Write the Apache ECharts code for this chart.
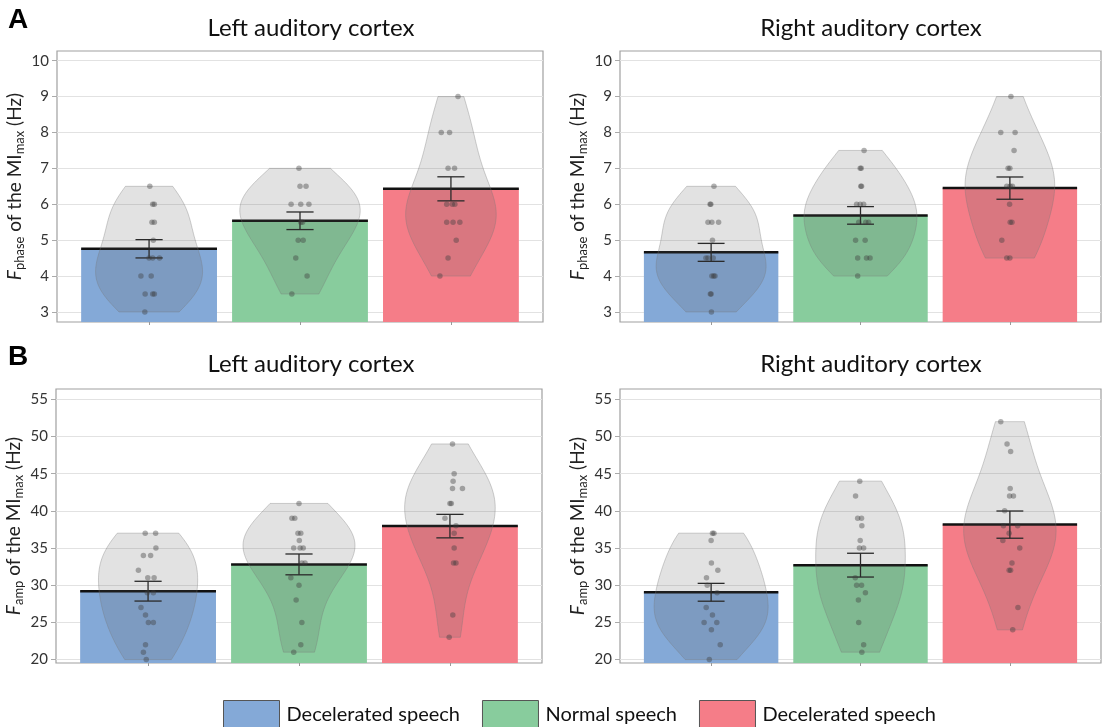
<!DOCTYPE html>
<html><head><meta charset="utf-8">
<script src="https://cdn.jsdelivr.net/npm/echarts@6.0.0/dist/echarts.min.js"></script>
<style>html,body{margin:0;padding:0;background:#fff}#c{width:1106px;height:727px}</style>
</head><body><div id="c"></div>
<script>
// ---------- data ----------
const conditions = ['Decelerated speech', 'Normal speech', 'Decelerated speech '];
const panelTitles = ['Left auditory cortex', 'Right auditory cortex', 'Left auditory cortex', 'Right auditory cortex'];
const panelLetters = ['A', 'B'];
const yTicksA = [3, 4, 5, 6, 7, 8, 9, 10];
const yTicksB = [20, 25, 30, 35, 40, 45, 50, 55];
const yRangeA = [2.72, 10.27];
const yRangeB = [19.54, 56.39];

// A - left
const meansAL = [4.76, 5.54, 6.43];
const semAL = [0.255, 0.245, 0.335];
const yAL0 = [6.5, 6, 6, 5.5, 5.5, 5, 4.5, 4.5, 4.5, 4, 4, 3.5, 3.5, 3.5, 3];
const jAL0 = [0.005, 0.024, 0.035, 0.019, 0.035, 0.028, 0.0, 0.024, 0.069, -0.054, 0.014, -0.026, 0.024, 0.035, -0.028];
const yAL1 = [7, 6.5, 6.5, 6, 6, 6, 5.5, 5.5, 5, 5, 4.5, 4, 3.5];
const jAL1 = [-0.007, 0, 0.040, -0.059, 0.005, 0.059, 0.005, 0.017, -0.012, 0.021, -0.028, 0.047, -0.054];
const yAL2 = [9, 8, 8, 7, 7, 6, 6, 6, 5.5, 5.5, 5.5, 5, 4.5, 4];
const jAL2 = [0.047, -0.064, -0.009, -0.019, 0.024, -0.028, 0.009, 0.026, -0.028, 0.014, 0.059, 0.035, -0.019, -0.073];

// A - right
const meansAR = [4.66, 5.69, 6.45];
const semAR = [0.25, 0.245, 0.31];
const yAR0 = [6.5, 6, 6, 5.5, 5.5, 5.5, 5, 4.5, 4.5, 4.5, 4, 4, 4, 3.5, 3.5, 3];
const jAR0 = [0.019, -0.007, -0.002, -0.021, 0.005, 0.050, 0.009, -0.035, -0.021, 0.014, 0.005, 0.017, 0.026, -0.005, 0, 0.002];
const yAR1 = [7.5, 7, 7, 6.5, 6.5, 6, 6, 6, 5.5, 5.5, 5.5, 5, 5, 4.5, 4.5, 4.5, 4];
const jAR1 = [0.024, -0.002, 0.005, 0.002, 0.007, -0.026, -0.002, 0.021, -0.012, 0.035, 0.054, -0.033, 0.031, -0.019, 0.040, 0.064, -0.019];
const yAR2 = [9, 8, 8, 7.5, 7, 7, 6.5, 6.5, 6.5, 6, 5.5, 5.5, 5, 4.5, 4.5];
const jAR2 = [0.007, -0.061, 0.035, 0.028, -0.012, 0, -0.021, 0.002, 0.017, -0.002, 0.002, 0.014, -0.054, -0.021, 0];

// B - left
const meansBL = [29.2, 32.8, 37.95];
const semBL = [1.33, 1.4, 1.58];
const yBL0 = [37, 37, 35, 34, 34, 32, 31, 31, 29, 29, 27, 26, 25, 25, 22, 21, 20];
const jBL0 = [-0.019, 0.050, 0.052, -0.031, 0.017, -0.064, -0.002, 0.040, -0.005, 0.035, -0.047, -0.017, 0.002, 0.035, -0.017, -0.031, -0.012];
const yBL1 = [41, 39, 39, 37, 37, 36, 35, 35, 35, 33, 33, 31, 30, 28, 25, 22, 21];
const jBL1 = [0, -0.047, -0.028, -0.007, 0.012, 0.002, -0.035, 0.007, 0.028, 0.019, 0.040, -0.054, 0, -0.019, 0.019, 0.012, -0.035];
const yBL2 = [49, 45, 44, 43, 43, 41, 41, 39, 38, 37, 35, 33, 33, 26, 23];
const jBL2 = [0.017, 0.028, 0.021, 0.017, 0.083, 0, 0.009, -0.033, 0.040, 0.028, 0.028, 0.024, 0.040, 0.019, -0.005];

// B - right
const meansBR = [29.05, 32.7, 38.15];
const semBR = [1.2, 1.6, 1.83];
const yBR0 = [37, 37, 36, 33, 32, 31, 30, 29, 27, 26, 25, 25, 24, 22, 20];
const jBR0 = [0.009, 0.019, 0, 0.002, 0.045, -0.031, -0.026, 0.040, -0.033, 0.009, -0.047, 0.038, 0.002, 0.061, -0.012];
const yBR1 = [44, 42, 39, 39, 38, 36, 35, 35, 31, 30, 30, 29, 28, 25, 22, 21];
const jBR1 = [-0.005, -0.033, -0.019, 0.007, 0.009, -0.002, -0.007, 0.021, -0.035, -0.026, 0.007, 0.033, -0.014, -0.012, 0.021, 0.009];
const yBR2 = [52, 49, 48, 43, 42, 42, 40, 38, 38, 37, 36, 35, 33, 32, 32, 27, 24];
const jBR2 = [-0.061, -0.019, 0.005, 0.002, -0.002, 0.024, -0.035, -0.043, 0.052, -0.005, -0.047, 0.066, 0.014, -0.005, 0.005, 0.054, 0.019];

// ---------- style ----------
const barColors = ['#84a9d7', '#88cc9d', '#f57d88'];
const BAR_W = 0.9;
const CAP_W = 0.18;
const VIOLIN_MIN_PEAK_W = 0.30;
const FONT = 'Lato';

const nameA = '{f|F}{sub|phase}{n| of the MI}{sub|max}{n| (Hz)}';
const nameB = '{f|F}{sub|amp}{n| of the MI}{sub|max}{n| (Hz)}';

const panels = [
  {means: meansAL, sem: semAL, ys: [yAL0, yAL1, yAL2], jit: [jAL0, jAL1, jAL2], range: yRangeA, ticks: yTicksA, yName: nameA},
  {means: meansAR, sem: semAR, ys: [yAR0, yAR1, yAR2], jit: [jAR0, jAR1, jAR2], range: yRangeA, ticks: yTicksA, yName: nameA},
  {means: meansBL, sem: semBL, ys: [yBL0, yBL1, yBL2], jit: [jBL0, jBL1, jBL2], range: yRangeB, ticks: yTicksB, yName: nameB},
  {means: meansBR, sem: semBR, ys: [yBR0, yBR1, yBR2], jit: [jBR0, jBR1, jBR2], range: yRangeB, ticks: yTicksB, yName: nameB}
];
const grids = [
  {left: 57, top: 51, width: 486, height: 271},
  {left: 620, top: 51, width: 481, height: 271},
  {left: 56, top: 389, width: 486, height: 274},
  {left: 620, top: 389, width: 481, height: 274}
];

// kernel density (Gaussian, Silverman bandwidth) evaluated between min and max of the data
function kde(vals) {
  const n = vals.length;
  const mean = vals.reduce((a, b) => a + b, 0) / n;
  const sd = Math.sqrt(vals.reduce((a, b) => a + (b - mean) * (b - mean), 0) / (n - 1));
  const h = 1.06 * sd * Math.pow(n, -0.2);
  const lo = Math.min(...vals), hi = Math.max(...vals);
  const N = 80, out = [];
  for (let i = 0; i <= N; i++) {
    const y = lo + (hi - lo) * i / N;
    let d = 0;
    for (const v of vals) { const u = (y - v) / h; d += Math.exp(-0.5 * u * u); }
    out.push([y, d / (n * h * Math.sqrt(2 * Math.PI))]);
  }
  return out;
}

const series = [];
const xAxes = [], yAxes = [];
panels.forEach((P, p) => {
  xAxes.push({
    type: 'value', gridIndex: p, min: 0.39, max: 3.61,
    axisLine: {show: false}, splitLine: {show: false}, axisLabel: {show: false},
    axisTick: {show: true, customValues: [1, 2, 3], length: 3, lineStyle: {color: '#999'}}
  });
  yAxes.push({
    type: 'value', gridIndex: p, min: P.range[0], max: P.range[1],
    axisLine: {show: false},
    axisTick: {show: true, customValues: P.ticks, length: 5, lineStyle: {color: '#aaa'}},
    axisLabel: {customValues: P.ticks, fontFamily: FONT, fontSize: 15, color: '#333', margin: 8},
    splitLine: {show: true, lineStyle: {color: '#e2e2e2', width: 1}},
    name: P.yName, nameLocation: 'middle', nameGap: 31, nameRotate: 90,
    nameTextStyle: {
      fontFamily: FONT, fontSize: 19, color: '#222',
      rich: {
        f: {fontFamily: FONT, fontSize: 19, fontStyle: 'italic', color: '#222'},
        n: {fontFamily: FONT, fontSize: 19, color: '#222'},
        sub: {fontFamily: FONT, fontSize: 13, color: '#222', padding: [9, 0, 0, 0]}
      }
    }
  });

  const dens = P.ys.map(kde);
  const peaks = dens.map(d => Math.max(...d.map(q => q[1])));
  const scale = VIOLIN_MIN_PEAK_W / Math.min(...peaks);

  // bars
  [0, 1, 2].forEach(c => {
    series.push({
      type: 'custom', name: conditions[c], xAxisIndex: p, yAxisIndex: p, z: 2, silent: true,
      itemStyle: {color: barColors[c]},
      data: [[c + 1, P.means[c]]],
      renderItem: (params, api) => {
        const x = api.value(0), m = api.value(1);
        const tl = api.coord([x - BAR_W / 2, m]);
        const br = api.coord([x + BAR_W / 2, P.range[0]]);
        return {type: 'group', children: [
          {type: 'rect', shape: {x: tl[0], y: tl[1], width: br[0] - tl[0], height: br[1] - tl[1]}, style: {fill: barColors[c]}},
          {type: 'line', shape: {x1: tl[0], y1: tl[1], x2: br[0], y2: tl[1]}, style: {stroke: '#111', lineWidth: 2.5}}
        ]};
      }
    });
  });
  // violins
  [0, 1, 2].forEach(c => {
    const d = dens[c];
    series.push({
      type: 'custom', name: conditions[c], xAxisIndex: p, yAxisIndex: p, z: 3, silent: true,
      data: [[c + 1]],
      renderItem: (params, api) => {
        const x0 = api.value(0);
        const pts = [];
        for (let i = 0; i < d.length; i++) pts.push(api.coord([x0 + d[i][1] * scale, d[i][0]]));
        for (let i = d.length - 1; i >= 0; i--) pts.push(api.coord([x0 - d[i][1] * scale, d[i][0]]));
        return {type: 'polygon', shape: {points: pts}, style: {fill: 'rgba(95,95,95,0.18)', stroke: 'rgba(120,120,120,0.35)', lineWidth: 1}};
      }
    });
  });
  // error bars
  [0, 1, 2].forEach(c => {
    series.push({
      type: 'custom', name: conditions[c], xAxisIndex: p, yAxisIndex: p, z: 4, silent: true,
      data: [[c + 1, P.means[c], P.sem[c]]],
      renderItem: (params, api) => {
        const x = api.value(0), m = api.value(1), s = api.value(2);
        const top = api.coord([x, m + s]), bot = api.coord([x, m - s]);
        const cl = api.coord([x - CAP_W / 2, m])[0], cr = api.coord([x + CAP_W / 2, m])[0];
        const st = {stroke: '#2a2a2a', lineWidth: 1.3};
        return {type: 'group', children: [
          {type: 'line', shape: {x1: top[0], y1: top[1], x2: bot[0], y2: bot[1]}, style: st},
          {type: 'line', shape: {x1: cl, y1: top[1], x2: cr, y2: top[1]}, style: st},
          {type: 'line', shape: {x1: cl, y1: bot[1], x2: cr, y2: bot[1]}, style: st}
        ]};
      }
    });
  });
  // points
  [0, 1, 2].forEach(c => {
    series.push({
      type: 'scatter', name: conditions[c], xAxisIndex: p, yAxisIndex: p, z: 5, silent: true,
      symbol: 'circle', symbolSize: 5.5,
      itemStyle: {color: 'rgba(60,60,60,0.5)'},
      data: P.ys[c].map((y, i) => [c + 1 + P.jit[c][i], y])
    });
  });
});

const titleFont = '24px Lato';
const graphics = [
  {type: 'text', x: 8, y: 6, style: {text: panelLetters[0], font: 'bold 28px "Liberation Sans"', fill: '#000'}},
  {type: 'text', x: 8, y: 343, style: {text: panelLetters[1], font: 'bold 28px "Liberation Sans"', fill: '#000'}},
  {type: 'text', x: 311, y: 16, style: {text: panelTitles[0], font: titleFont, fill: '#111', align: 'center', textAlign: 'center'}},
  {type: 'text', x: 871, y: 16, style: {text: panelTitles[1], font: titleFont, fill: '#111', align: 'center', textAlign: 'center'}},
  {type: 'text', x: 311, y: 352, style: {text: panelTitles[2], font: titleFont, fill: '#111', align: 'center', textAlign: 'center'}},
  {type: 'text', x: 871, y: 352, style: {text: panelTitles[3], font: titleFont, fill: '#111', align: 'center', textAlign: 'center'}}
];

const chart = echarts.init(document.getElementById('c'), null, {renderer: 'canvas'});
chart.setOption({
  animation: false,
  backgroundColor: '#fff',
  grid: grids.map(g => Object.assign({show: true, borderColor: '#a0a0a0', borderWidth: 1.2, backgroundColor: 'transparent'}, g)),
  xAxis: xAxes,
  yAxis: yAxes,
  legend: {
    data: conditions.map((n, i) => ({name: n, itemStyle: {color: barColors[i]}})),
    icon: 'rect', top: 700, left: 223, itemWidth: 56, itemHeight: 28, itemGap: 22,
    padding: 0,
    selectedMode: false,
    itemStyle: {borderColor: '#555', borderWidth: 1},
    textStyle: {fontFamily: FONT, fontSize: 20, color: '#111', padding: [0, 0, 0, 2]}
  },
  graphic: graphics,
  series: series
});
</script></body></html>
